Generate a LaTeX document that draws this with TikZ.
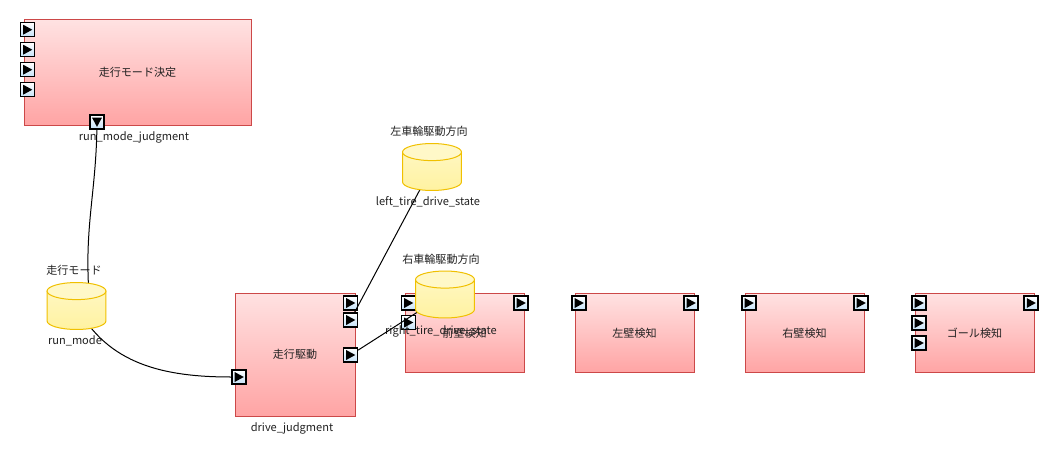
\documentclass[tikz,border=0pt]{standalone}
\usepackage{fontspec}
\setmainfont{Noto Sans CJK JP}

\pgfdeclarelayer{foreground}
\pgfsetlayers{main,foreground}

\definecolor{boxtop}{HTML}{FFE2E2}
\definecolor{boxbot}{HTML}{FFA4A4}
\definecolor{boxline}{HTML}{CC4848}
\definecolor{cyltop}{HTML}{FFF8C8}
\definecolor{cylbody}{HTML}{FFF2A0}
\definecolor{cylline}{HTML}{F0C000}
\definecolor{portbot}{HTML}{C4E2F8}
\definecolor{textc}{HTML}{222222}

\tikzset{
  block/.style={draw=boxline, line width=0.75pt, top color=boxtop, bottom color=boxbot,
    inner sep=0pt, text=textc, font=\fontsize{8.3pt}{10pt}\selectfont},
  smallblock/.style={block, minimum width=89.25pt, minimum height=59.25pt},
  store/.style={minimum width=45pt, minimum height=36pt, inner sep=0pt,
    path picture={
      \path[draw=cylline, line width=0.75pt, top color=cyltop, bottom color=cylbody]
        ([shift={(0.4pt,-6.8pt)}]path picture bounding box.north west)
        -- ([shift={(0.4pt,6.8pt)}]path picture bounding box.south west)
        arc[start angle=180, end angle=360, x radius=22.1pt, y radius=6.4pt]
        -- ([shift={(-0.4pt,-6.8pt)}]path picture bounding box.north east) -- cycle;
      \path[draw=cylline, line width=0.75pt, fill=cyltop]
        ([yshift=-6.8pt]path picture bounding box.north) ellipse[x radius=22.1pt, y radius=6.4pt];}},
  port/.style={draw=black, line width=0.9pt, top color=white, bottom color=portbot,
    minimum size=10.5pt, inner sep=0pt,
    path picture={\fill ([shift={(-3.2pt,3.7pt)}]path picture bounding box.center)
      -- ([shift={(3.6pt,0pt)}]path picture bounding box.center)
      -- ([shift={(-3.2pt,-3.7pt)}]path picture bounding box.center) -- cycle;}},
  portdown/.style={port,
    path picture={\fill ([shift={(-3.7pt,3.2pt)}]path picture bounding box.center)
      -- ([shift={(0pt,-3.6pt)}]path picture bounding box.center)
      -- ([shift={(3.7pt,3.2pt)}]path picture bounding box.center) -- cycle;}},
  lbl/.style={inner sep=0pt, text=textc, font=\fontsize{8.3pt}{10pt}\selectfont},
  wire/.style={draw=black, line width=0.75pt}
}

\begin{document}
\begin{tikzpicture}[x=0.75pt,y=-0.75pt]
  \useasboundingbox[fill=white] (0,0) rectangle (1059,460);

  % data stores (drawn over the rest)
  \begin{pgfonlayer}{foreground}
    \node[store] (rm) at (76.5,306) {};
    \node[store] (lt) at (432,167) {};
    \node[store] (rt) at (445,294.5) {};
  \end{pgfonlayer}
  \node[lbl] (rmtitle) at (74,270) {走行モード};
  \node[lbl] (rmname) at (75,341) {run\_mode};
  \node[lbl] (lttitle) at (429,131) {左車輪駆動方向};
  \node[lbl] (ltname) at (428,202) {left\_tire\_drive\_state};
  \node[lbl] (rttitle) at (441,259) {右車輪駆動方向};

  % run mode judgment
  \node[block, minimum width=170.25pt, minimum height=78.75pt] (rmj) at (137.5,72.5) {走行モード決定};
  \node[port] (rmjin1) at (27.5,29.7) {};
  \node[port] (rmjin2) at (27.5,49.7) {};
  \node[port] (rmjin3) at (27.5,69.7) {};
  \node[port] (rmjin4) at (27.5,89.7) {};
  \node[portdown] (rmjout) at (97,122) {};
  \node[lbl] (rmjname) at (134,137) {run\_mode\_judgment};

  % drive judgment
  \node[block, minimum width=90pt, minimum height=92.25pt] (dj) at (295,354.5) {走行駆動};
  \node[port] (djout1) at (350.5,303) {};
  \node[port] (djout2) at (350.5,320) {};
  \node[port] (djout3) at (350.5,355) {};
  \node[port] (djin) at (239,377) {};
  \node[lbl] (djname) at (292,428) {drive\_judgment};

  % detectors
  \node[smallblock] (front) at (464.5,333) {前壁検知};
  \node[port] (frontin1) at (408.5,303) {};
  \node[port] (frontin2) at (408.5,322.5) {};
  \node[port] (frontout) at (521,303) {};
  \node[lbl] (rtname) at (441,331) {right\_tire\_drive\_state};

  \node[smallblock] (leftw) at (634.5,333) {左壁検知};
  \node[port] (leftwin) at (579,303) {};
  \node[port] (leftwout) at (691,303) {};

  \node[smallblock] (rightw) at (804.5,333) {右壁検知};
  \node[port] (rightwin) at (749,303) {};
  \node[port] (rightwout) at (861,303) {};

  \node[smallblock] (goal) at (974.5,333) {ゴール検知};
  \node[port] (goalin1) at (919,303) {};
  \node[port] (goalin2) at (919,323) {};
  \node[port] (goalin3) at (919,343) {};
  \node[port] (goalout) at (1031,303) {};

  % connectors
  \draw[wire] (rmjout) to[out=-91,in=93] ([xshift=9pt,yshift=-3pt]rm.north);
  \draw[wire] (rm.center) to[out=-62,in=180] (djin);
  \draw[wire] (djout2) -- (lt.center);
  \draw[wire] (djout3) -- (rt.center);
\end{tikzpicture}
\end{document}
